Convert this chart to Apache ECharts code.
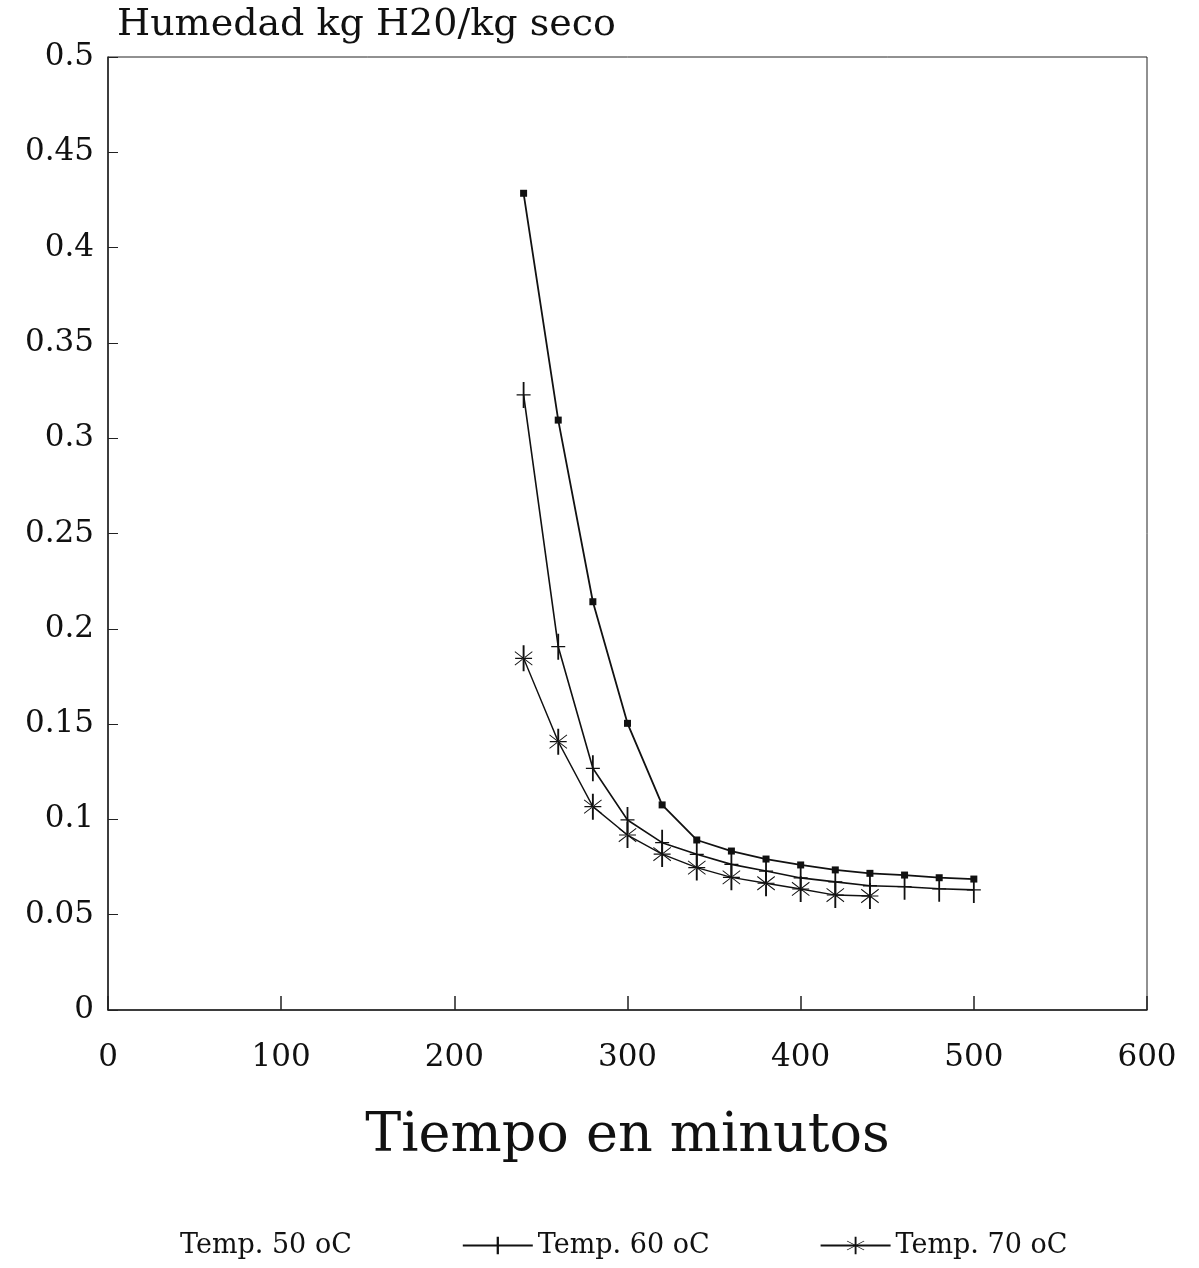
<!DOCTYPE html>
<html>
<head>
<meta charset="utf-8">
<script src="https://cdn.jsdelivr.net/npm/echarts@6/dist/echarts.min.js"></script>
<style>
html,body{margin:0;padding:0;background:#fff;}
#chart{width:1199px;height:1268px;}
</style>
</head>
<body>
<div id="chart"></div>
<script>
// ---- data ----
const titleText = 'Humedad kg H20/kg seco';
const xAxisName = 'Tiempo en minutos';
const seriesNames = ['Temp. 50 oC', 'Temp. 60 oC', 'Temp. 70 oC'];
const timeMinutes = [240, 260, 280, 300, 320, 340, 360, 380, 400, 420, 440, 460, 480, 500];
const temp50 = [0.4285, 0.3095, 0.2142, 0.1504, 0.1076, 0.0892, 0.0834, 0.0792, 0.0761, 0.0735, 0.0717, 0.0708, 0.0694, 0.0687];
const temp60 = [0.3227, 0.1906, 0.1268, 0.0997, 0.0878, 0.0817, 0.0764, 0.0729, 0.0693, 0.0672, 0.0652, 0.0647, 0.0636, 0.0630];
const temp70 = [0.1845, 0.1408, 0.1067, 0.0918, 0.0818, 0.0747, 0.0696, 0.0665, 0.0635, 0.0603, 0.0598];
const xMin = 0, xMax = 600, xStep = 100;
const yMin = 0, yMax = 0.5, yStep = 0.05;

const font = 'DejaVu Serif';
const pair = (vals) => vals.map((v, i) => [timeMinutes[i], v]);

const barSymbol = 'path://M-0.9,-12 L0.9,-12 L0.9,12 L-0.9,12 Z M-7,-0.6 L7,-0.6 L7,0.6 L-7,0.6 Z';
const starSymbol = 'path://M-0.9,-12 L0.9,-12 L0.9,12 L-0.9,12 Z M-8,-6.6 L8.5,5.8 L8,6.6 L-8.5,-5.8 Z M-8,6.6 L8.5,-5.8 L8,-6.6 L-8.5,5.8 Z M-8,-0.5 L8,-0.5 L8,0.5 L-8,0.5 Z';

const chart = echarts.init(document.getElementById('chart'), null, {renderer: 'canvas'});
chart.setOption({
  backgroundColor: '#ffffff',
  animation: false,
  title: {
    text: titleText,
    left: 112, top: 1,
    textStyle: {fontFamily: font, fontSize: 38, fontWeight: 'normal', color: '#111'}
  },
  grid: {left: 108, right: 52, top: 57, bottom: 258, show: true, borderColor: '#222', borderWidth: 1, backgroundColor: 'transparent'},
  legend: {
    bottom: 4, left: 100,
    itemGap: 110, itemWidth: 70, itemHeight: 22,
    textStyle: {fontFamily: font, fontSize: 27, color: '#111'},
    data: [
      {name: seriesNames[0], icon: 'none'},
      {name: seriesNames[1]},
      {name: seriesNames[2]}
    ]
  },
  xAxis: {
    type: 'value', min: xMin, max: xMax, interval: xStep,
    name: xAxisName, nameLocation: 'middle', nameGap: 100,
    nameTextStyle: {fontFamily: font, fontSize: 54, color: '#111'},
    axisLine: {show: true, lineStyle: {color: '#222', width: 1.5}},
    axisTick: {show: true, inside: true, length: 14, lineStyle: {color: '#222', width: 1.5}},
    axisLabel: {margin: 32, fontFamily: font, fontSize: 31, color: '#111'},
    splitLine: {show: false}
  },
  yAxis: {
    type: 'value', min: yMin, max: yMax, interval: yStep,
    axisLine: {show: true, lineStyle: {color: '#222', width: 1.5}},
    axisTick: {show: true, inside: true, length: 10, lineStyle: {color: '#222', width: 1}},
    axisLabel: {margin: 14, fontFamily: font, fontSize: 31, color: '#111'},
    splitLine: {show: false}
  },
  series: [
    {
      name: seriesNames[0], type: 'line', data: pair(temp50),
      symbol: 'rect', symbolSize: 7,
      lineStyle: {color: '#111', width: 1.8},
      itemStyle: {color: '#111'}
    },
    {
      name: seriesNames[1], type: 'line', data: pair(temp60),
      symbol: barSymbol, symbolSize: [14, 26],
      lineStyle: {color: '#111', width: 1.6},
      itemStyle: {color: '#111'}
    },
    {
      name: seriesNames[2], type: 'line', data: pair(temp70),
      symbol: starSymbol, symbolSize: [18, 26],
      lineStyle: {color: '#111', width: 1.4},
      itemStyle: {color: '#111'}
    }
  ]
});
</script>
</body>
</html>
